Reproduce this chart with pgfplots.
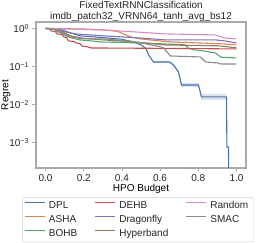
\documentclass[border=0pt]{standalone}
\usepackage{pgfplots}
\pgfplotsset{compat=1.18}
\usepackage{fontspec}
\setmainfont{Liberation Sans}
\definecolor{cDPL}{RGB}{76,114,176}
\definecolor{cASHA}{RGB}{221,132,82}
\definecolor{cBOHB}{RGB}{85,168,104}
\definecolor{cDEHB}{RGB}{196,78,82}
\definecolor{cDrag}{RGB}{129,114,179}
\definecolor{cHyp}{RGB}{147,120,96}
\definecolor{cRand}{RGB}{218,139,195}
\definecolor{cSMAC}{RGB}{140,140,140}
\definecolor{txt}{RGB}{38,38,38}
\definecolor{spine}{RGB}{170,170,170}
\begin{document}
\begin{tikzpicture}
\begin{axis}[
  scale only axis, width=210pt, height=146pt,
  xmin=-0.05, xmax=1.05,
  ymode=log, ymin=2.13e-4, ymax=1.48,
  xtick={0,0.2,0.4,0.6,0.8,1},
  xticklabels={0.0,0.2,0.4,0.6,0.8,1.0},
  ytick={1e-3,1e-2,1e-1,1},
  yticklabels={10\textsuperscript{−3},10\textsuperscript{−2},10\textsuperscript{−1},10\textsuperscript{0}},
  yminorticks=false,
  tick pos=left, tick align=outside, major tick length=3.5pt,
  tick style={spine, line width=0.8pt},
  axis line style={spine, line width=1.1pt},
  ticklabel style={font=\fontsize{10}{12}\selectfont, text=txt},
  xticklabel style={inner ysep=1.5pt, yshift=-1.8pt},
  xlabel={HPO Budget}, ylabel={Regret},
  label style={font=\fontsize{10}{12}\selectfont, text=txt},
  every axis x label/.style={at={(axis description cs:0.5,-0.16)}, anchor=base, inner sep=0pt},
  every axis y label/.style={at={(axis description cs:-0.143,0.5)}, rotate=90, anchor=center, inner sep=0pt},
  title={FixedTextRNNClassification\\imdb\_patch32\_VRNN64\_tanh\_avg\_bs12},
  every axis title/.style={at={(axis description cs:0.5,1)}, anchor=south, inner sep=0pt,
    font=\fontsize{10}{11}\selectfont, text=txt, align=center},
  legend columns=3,
  legend cell align=left,
  legend image code/.code={\draw[#1] (0pt,3.3pt) -- (20pt,3.3pt);},
  legend style={at={(0.486,-0.2)}, anchor=north, draw=black!18, rounded corners=2pt,
    font=\fontsize{10}{12}\selectfont, text=txt, inner sep=2pt,
    nodes={inner ysep=1.5pt, inner xsep=3.5pt, text height=7.5pt, text depth=2pt},
    row sep=1.5pt,
    /tikz/every even column/.append style={column sep=14pt}},
  every axis plot/.append style={line width=1.1pt},
]
% DPL band
\addplot[draw=none, fill=cDPL, fill opacity=0.2, forget plot] coordinates {
 (0.565,0.14) (0.649,0.14) (0.67,0.118) (0.696,0.078) (0.712,0.037) (0.801,0.037) (0.817,0.019) (0.948,0.019)
 (0.948,0.013) (0.817,0.013) (0.801,0.029) (0.712,0.029) (0.696,0.066) (0.67,0.102) (0.649,0.123) (0.565,0.123)} -- cycle;
% DPL
\addplot[cDPL, forget plot] coordinates {
 (0,1.0) (0.07,0.97) (0.10,0.86) (0.18,0.64) (0.29,0.58) (0.40,0.52) (0.46,0.44) (0.50,0.37) (0.525,0.30) (0.54,0.20)
 (0.565,0.131) (0.649,0.131) (0.67,0.11) (0.696,0.072) (0.712,0.0325) (0.801,0.0325) (0.817,0.0158) (0.948,0.0158)
 (0.950,0.00076) (0.958,0.00076) (0.962,0.00001)};
% ASHA
\addplot[cASHA, forget plot] coordinates {
 (0,1.0) (0.2,0.97) (0.31,0.91) (0.377,0.84) (0.445,0.60) (0.50,0.53) (0.60,0.47) (0.66,0.44) (0.81,0.415) (0.94,0.39) (1.0,0.368)};
% BOHB
\addplot[cBOHB, forget plot] coordinates {
 (0,1.0) (0.05,1.0) (0.055,0.86) (0.08,0.76) (0.12,0.60) (0.14,0.56) (0.18,0.50) (0.24,0.47) (0.29,0.44) (0.40,0.43)
 (0.63,0.39) (0.73,0.37) (0.75,0.30) (0.775,0.275) (0.82,0.26) (0.89,0.227) (0.92,0.175) (1.0,0.168)};
% DEHB
\addplot[cDEHB, forget plot] coordinates {
 (0,1.0) (0.02,1.0) (0.03,0.86) (0.05,0.84) (0.06,0.72) (0.085,0.70) (0.095,0.60) (0.11,0.58) (0.12,0.47) (0.15,0.45)
 (0.16,0.415) (0.18,0.40) (0.19,0.346) (0.22,0.33) (0.24,0.307) (0.6,0.30) (0.8,0.295) (1.0,0.289)};
% Dragonfly
\addplot[cDrag, forget plot] coordinates {
 (0,1.0) (0.05,0.97) (0.079,0.86) (0.157,0.72) (0.314,0.635) (0.5,0.56) (0.63,0.50) (0.89,0.50) (0.94,0.47) (1.0,0.415)};
% Hyperband
\addplot[cHyp, forget plot] coordinates {
 (0,1.0) (0.05,0.97) (0.09,0.80) (0.14,0.62) (0.2,0.55) (0.3,0.50) (0.45,0.45) (0.63,0.368) (0.9,0.35) (0.95,0.33) (1.0,0.31)};
% Random
\addplot[cRand, forget plot] coordinates {
 (0,1.0) (0.31,0.91) (0.63,0.72) (0.89,0.675) (0.94,0.56) (1.0,0.53)};
% SMAC
\addplot[cSMAC, forget plot] coordinates {
 (0,1.0) (0.04,0.97) (0.079,0.81) (0.13,0.60) (0.2,0.53) (0.31,0.53) (0.45,0.46) (0.5,0.42) (0.55,0.37) (0.60,0.33)
 (0.618,0.307) (0.654,0.189) (0.81,0.178) (0.84,0.131) (0.90,0.124) (0.92,0.116) (1.0,0.116)};
\addlegendimage{cDPL, line width=1.1pt}\addlegendentry{DPL}
\addlegendimage{cDEHB, line width=1.1pt}\addlegendentry{DEHB}
\addlegendimage{cRand, line width=1.1pt}\addlegendentry{Random}
\addlegendimage{cASHA, line width=1.1pt}\addlegendentry{ASHA}
\addlegendimage{cDrag, line width=1.1pt}\addlegendentry{Dragonfly}
\addlegendimage{cSMAC, line width=1.1pt}\addlegendentry{SMAC}
\addlegendimage{cBOHB, line width=1.1pt}\addlegendentry{BOHB}
\addlegendimage{cHyp, line width=1.1pt}\addlegendentry{Hyperband}
\end{axis}
\path ([xshift=-36pt,yshift=-75pt]current axis.south west) rectangle ([xshift=20pt,yshift=22pt]current axis.north east);
\end{tikzpicture}
\end{document}
